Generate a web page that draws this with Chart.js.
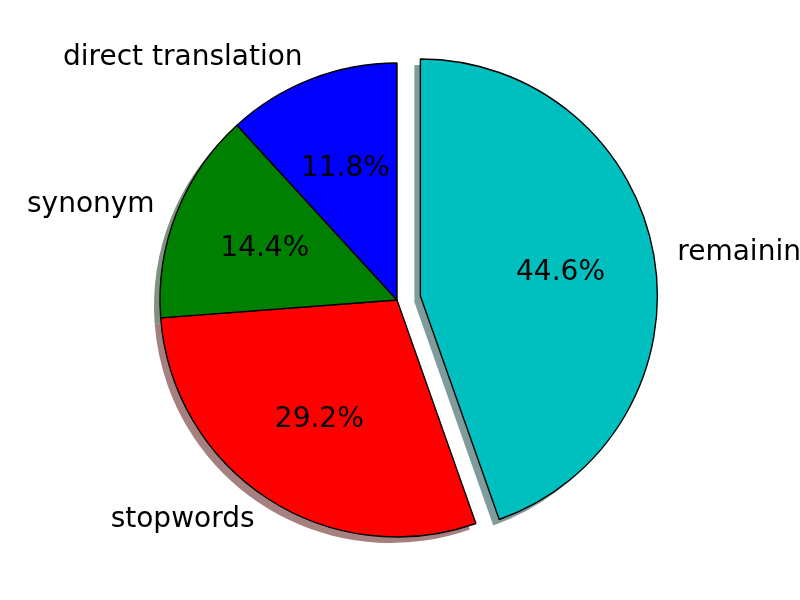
<!DOCTYPE html>
<html>
<head>
<meta charset="utf-8">
<script src="https://cdn.jsdelivr.net/npm/chart.js@4"></script>
<style>
  html, body { margin: 0; padding: 0; background: #fff; }
  canvas { display: block; }
</style>
</head>
<body>
<canvas id="pie" width="800" height="600"></canvas>
<script>
// données, dans l'ordre matplotlib (sens anti-horaire depuis le haut)
const categories = ["direct translation", "synonym", "stopwords", "remaining"];
const valeurs = [11.8, 14.4, 29.2, 44.6];
const couleurs = ["#0000ff", "#008000", "#ff0000", "#00bfbf"];
const explode = [0, 0, 0, 0.1];

// Chart.js tourne dans le sens horaire -> on inverse l'ordre
const ordre = [3, 2, 1, 0];
const labels = ordre.map(i => categories[i]);
const data = ordre.map(i => valeurs[i]);
const bg = ordre.map(i => couleurs[i]);
const expl = ordre.map(i => explode[i]);

const police = "28px 'DejaVu Sans'";

// couleur d'ombre : 0.3 * couleur, alpha 0.5
function ombre(hex) {
    const r = parseInt(hex.slice(1, 3), 16) * 0.3;
    const g = parseInt(hex.slice(3, 5), 16) * 0.3;
    const b = parseInt(hex.slice(5, 7), 16) * 0.3;
    return `rgba(${r},${g},${b},0.5)`;
}

const piePlugin = {
    id: "piePlugin",
    afterUpdate(chart) {
        // décalage de la part "explosée"
        const arcs = chart.getDatasetMeta(0).data;
        arcs.forEach((arc, i) => {
            if (!expl[i]) return;
            const mid = (arc.startAngle + arc.endAngle) / 2;
            arc.x += Math.cos(mid) * expl[i] * arc.outerRadius;
            arc.y += Math.sin(mid) * expl[i] * arc.outerRadius;
        });
    },
    beforeDatasetsDraw(chart) {
        // ombres sous toutes les parts
        const ctx = chart.ctx;
        const arcs = chart.getDatasetMeta(0).data;
        ctx.save();
        arcs.forEach((arc, i) => {
            ctx.beginPath();
            ctx.moveTo(arc.x - 6, arc.y + 6);
            ctx.arc(arc.x - 6, arc.y + 6, arc.outerRadius, arc.startAngle, arc.endAngle);
            ctx.closePath();
            ctx.fillStyle = ombre(bg[i]);
            ctx.fill();
        });
        ctx.restore();
    },
    afterDatasetsDraw(chart) {
        const ctx = chart.ctx;
        const arcs = chart.getDatasetMeta(0).data;
        const total = data.reduce((a, b) => a + b, 0);
        ctx.save();
        ctx.font = police;
        ctx.fillStyle = "#000";
        ctx.textBaseline = "middle";
        arcs.forEach((arc, i) => {
            const mid = (arc.startAngle + arc.endAngle) / 2;
            const r = arc.outerRadius;
            // étiquette
            const xt = arc.x + 1.1 * r * Math.cos(mid);
            const yt = arc.y + 1.1 * r * Math.sin(mid);
            ctx.textAlign = Math.cos(mid) > 0 ? "left" : "right";
            ctx.fillText(labels[i], xt, yt + 1);
            // pourcentage
            ctx.textAlign = "center";
            const pct = (data[i] / total * 100).toFixed(1) + "%";
            ctx.fillText(pct, arc.x + 0.6 * r * Math.cos(mid), arc.y + 0.6 * r * Math.sin(mid) + 1);
        });
        ctx.restore();
    }
};

new Chart(document.getElementById("pie"), {
    type: "pie",
    data: {
        labels: labels,
        datasets: [{
            data: data,
            backgroundColor: bg,
            borderColor: "#000",
            borderWidth: 1.4,
            radius: 237
        }]
    },
    options: {
        responsive: false,
        animation: false,
        layout: { padding: { left: 0, right: 6, top: 0, bottom: 0 } },
        plugins: {
            legend: { display: false },
            tooltip: { enabled: false }
        }
    },
    plugins: [piePlugin]
});
</script>
</body>
</html>
